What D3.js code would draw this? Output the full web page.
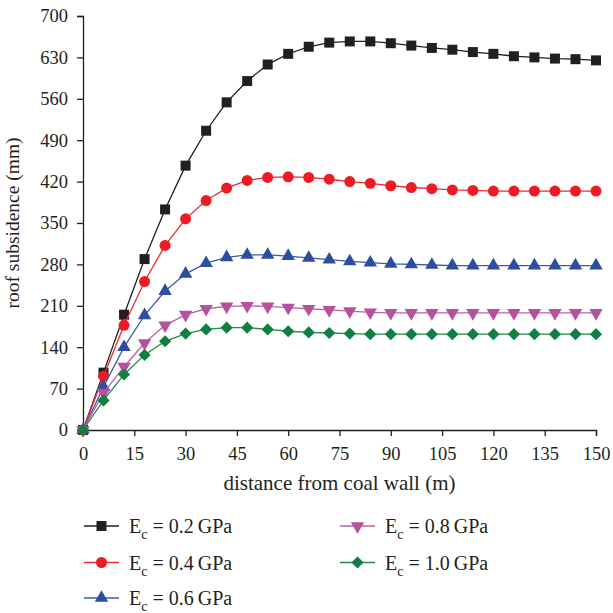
<!DOCTYPE html>
<html><head><meta charset="utf-8">
<script src="https://cdn.jsdelivr.net/npm/d3@7"></script>
<style>body{margin:0;background:#fff}svg{display:block}</style>
</head><body>
<svg id="c" width="613" height="613"></svg>
<script>
const distance = [0,6,12,18,24,30,36,42,48,54,60,66,72,78,84,90,96,102,108,114,120,126,132,138,144,150];
const ec02 = [0,97,195,289,373,447,506,554,590,618,636,648,655,657,657,654,650,646,643,639,636,632,630,628,627,625];
const ec04 = [0,91,177,251,312,357,388,409,422,427,428,427,424,420,417,413,410,408,406,405,404,404,404,404,404,404];
const ec06 = [0,73,140,194,235,264,282,292,296,296,294,291,288,285,283,281,280,279,278,278,278,278,278,278,278,278];
const ec08 = [0,63,107,147,177,195,205,209,210,209,207,205,203,201,199,198,198,198,198,198,198,198,198,198,198,198];
const ec10 = [0,50,94,127,150,163,170,173,173,170,167,165,164,163,162,162,162,162,162,162,162,162,162,162,162,162];
const seriesNames = ["0.2","0.4","0.6","0.8","1.0"];
const xTicks = [0,15,30,45,60,75,90,105,120,135,150];
const yTicks = [0,70,140,210,280,350,420,490,560,630,700];

const series = [
  {name:seriesNames[0], values:ec02, color:"#231f20", line:"#231f20", sym:"square"},
  {name:seriesNames[1], values:ec04, color:"#ed1c24", line:"#ee2a32", sym:"circle"},
  {name:seriesNames[2], values:ec06, color:"#2d4e9f", line:"#3b5ba8", sym:"triangle"},
  {name:seriesNames[3], values:ec08, color:"#b6519f", line:"#bd60a7", sym:"down"},
  {name:seriesNames[4], values:ec10, color:"#108040", line:"#1f8a4c", sym:"diamond"}
];

const svg = d3.select("#c");
const font = "'Liberation Serif','Times New Roman',serif";
const ink = "#231f20";
const x = d3.scaleLinear().domain([0,150]).range([83,596]);
const y = d3.scaleLinear().domain([0,700]).range([430,16]);

function symPath(s){
  if(s==="square") return d3.symbol(d3.symbolSquare,100)();
  if(s==="circle") return d3.symbol(d3.symbolCircle,95)();
  if(s==="triangle") return d3.symbol(d3.symbolTriangle,78)();
  if(s==="down") return d3.symbol(d3.symbolTriangle,78)();
  return d3.symbol(d3.symbolSquare,74)();
}
function symRot(s){ return s==="down"?180:(s==="diamond"?45:0); }

// axes
const xa = svg.append("g").attr("transform","translate(0,430)")
  .call(d3.axisBottom(x).tickValues(xTicks).tickSizeOuter(0).tickSize(6).tickPadding(6));
const ya = svg.append("g").attr("transform","translate(83,0)")
  .call(d3.axisLeft(y).tickValues(yTicks).tickSizeOuter(0).tickSize(6).tickPadding(9));
[xa,ya].forEach(a=>{
  a.selectAll("path,line").attr("stroke",ink).attr("stroke-width",1.3);
  a.selectAll("text").attr("fill",ink).style("font-family",font).style("font-size","18.5px");
});
xa.selectAll("text").attr("dy","0.95em");

svg.append("text").attr("x",339.5).attr("y",490).attr("text-anchor","middle")
  .attr("fill",ink).style("font-family",font).style("font-size","21px")
  .text("distance from coal wall (m)");
svg.append("text").attr("transform","translate(19,223) rotate(-90)").attr("text-anchor","middle")
  .attr("fill",ink).style("font-family",font).style("font-size","19.5px")
  .text("roof subsidence (mm)");

const line = d3.line().x((d,i)=>x(distance[i])).y(d=>y(d));
series.forEach(s=>{
  const g = svg.append("g");
  g.append("path").datum(s.values).attr("d",line).attr("fill","none")
    .attr("stroke",s.line).attr("stroke-width",1.3);
  g.selectAll("path.m").data(s.values).join("path").attr("class","m")
    .attr("d",symPath(s.sym)).attr("fill",s.color)
    .attr("transform",(d,i)=>`translate(${x(distance[i])},${y(d)}) rotate(${symRot(s.sym)})`);
});

// legend
const legPos = [[84,526],[84,562.5],[84,598],[340,526],[340,562.5]];
series.forEach((s,i)=>{
  const [lx,ly] = legPos[i];
  const g = svg.append("g").attr("transform",`translate(${lx},${ly})`);
  g.append("line").attr("x1",0).attr("x2",35).attr("y1",0).attr("y2",0)
    .attr("stroke",s.line).attr("stroke-width",1.5);
  g.append("path").attr("d",symPath(s.sym)).attr("fill",s.color)
    .attr("transform",`translate(17.5,0) rotate(${symRot(s.sym)})`);
  const t = g.append("text").attr("x",45).attr("y",7).attr("fill",ink)
    .style("font-family",font).style("font-size","20px");
  t.append("tspan").text("E");
  t.append("tspan").attr("dy",6).style("font-size","14px").text("c");
  t.append("tspan").attr("dy",-6).text(" = " + s.name + "\u2009GPa");
});
</script>
</body></html>
